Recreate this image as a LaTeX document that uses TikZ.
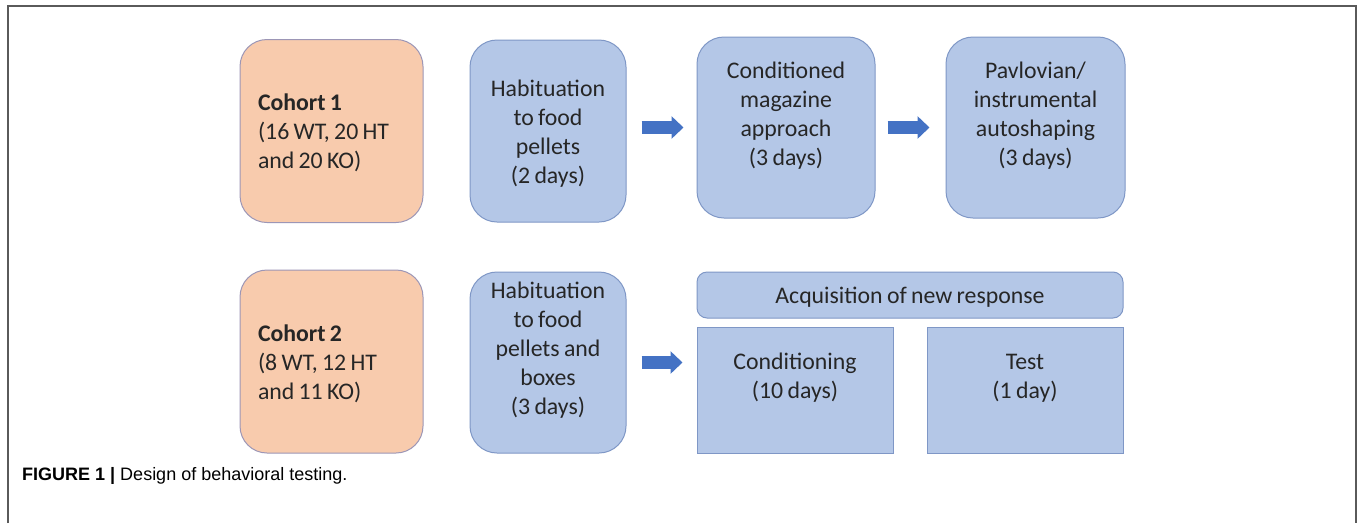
\documentclass[tikz,border=0pt]{standalone}
\usepackage{fontspec}
\setmainfont[WordSpace=0.8]{Carlito}
\newfontfamily\capfont{Liberation Sans}
\usetikzlibrary{arrows.meta}
\definecolor{orfill}{HTML}{F8CBAD}
\definecolor{ordraw}{HTML}{9C96B6}
\definecolor{blfill}{HTML}{B4C7E7}
\definecolor{bldraw}{HTML}{7F97C6}
\definecolor{arrowblue}{HTML}{4472C4}
\definecolor{txt}{HTML}{262626}
\definecolor{framegray}{HTML}{5A5A5A}
\newcommand\mystrut{\rule[-0.2\baselineskip]{0pt}{\baselineskip}}
\begin{document}
\begin{tikzpicture}[x=1pt,y=-1pt,
  boxtext/.style={font=\fontsize{23.8}{29}\selectfont, text=txt, inner sep=0pt, line width=1pt},
  cohortbox/.style={boxtext, draw=ordraw, fill=orfill, rounded corners=27pt, align=left,
    text width=147pt, inner xsep=18pt, minimum height=183pt,
    execute at begin node={\spaceskip=4.3pt\relax\xspaceskip=4.3pt\relax}},
  bluebox/.style={boxtext, draw=bldraw, fill=blfill, rounded corners=27pt, align=center},
  flatbox/.style={boxtext, draw=bldraw, fill=blfill, sharp corners, align=center},
  blockarrow/.style={arrowblue, line width=13pt, -{Triangle[length=12pt,width=22pt]}}
]
\useasboundingbox (0,0) rectangle (1358,523);
\fill[white] (0,0) rectangle (1358,523);
\draw[framegray, line width=1.5pt] (8,523) -- (8,6) -- (1356,6) -- (1356,523);

\node[cohortbox] (c1) at (331.5,131) {\mystrut\textbf{Cohort 1}\\\mystrut(16 WT, 20 HT\\\mystrut and 20 KO)};
\node[cohortbox] (c2) at (331.5,361.5) {\mystrut\textbf{Cohort 2}\\\mystrut(8 WT, 12 HT\\\mystrut and 11 KO)};

\node[bluebox, minimum width=156pt, minimum height=182pt] (h1) at (548,131)
  {\mystrut Habituation\\\mystrut to food\\\mystrut pellets\\\mystrut (2 days)};
\node[bluebox, minimum width=178pt, minimum height=181pt] (cm) at (786,127.5)
  {\mystrut Conditioned\\\mystrut magazine\\\mystrut approach\\\mystrut (3 days)\\\mystrut};
\node[bluebox, minimum width=179pt, minimum height=181pt] (pv) at (1035.5,127.5)
  {\mystrut Pavlovian/\\\mystrut instrumental\\\mystrut autoshaping\\\mystrut (3 days)\\\mystrut};

\node[bluebox, minimum width=156pt, minimum height=181pt] (h2) at (548,362.5)
  {\mystrut Habituation\\\mystrut to food\\\mystrut pellets and\\\mystrut boxes\\\mystrut (3 days)\\\mystrut};
\node[bluebox, rounded corners=10pt, minimum width=426pt, minimum height=46pt,
  text height=21pt, text depth=4pt] (acq) at (910,295)
  {Acquisition of new response};
\node[flatbox, minimum width=196pt, minimum height=126pt] (cond) at (795,390)
  {\mystrut Conditioning\\\mystrut (10 days)\\\mystrut};
\node[flatbox, minimum width=196pt, minimum height=126pt] (test) at (1025,390)
  {\mystrut Test\\\mystrut (1 day)\\\mystrut};

\draw[blockarrow, shorten <=15pt, shorten >=13pt] (h1.east |- cm.west) -- (cm.west);
\draw[blockarrow, shorten <=12pt, shorten >=16pt] (cm.east) -- (pv.west);
\draw[blockarrow, shorten <=15pt, shorten >=14pt] (h2.east) -- (h2.east -| cond.west);

\node[anchor=base west, font=\capfont\fontsize{18}{21}\selectfont, text=black, inner sep=0pt] (cap) at (22,480)
  {\textbf{FIGURE 1 |} Design of behavioral testing.};
\end{tikzpicture}
\end{document}
